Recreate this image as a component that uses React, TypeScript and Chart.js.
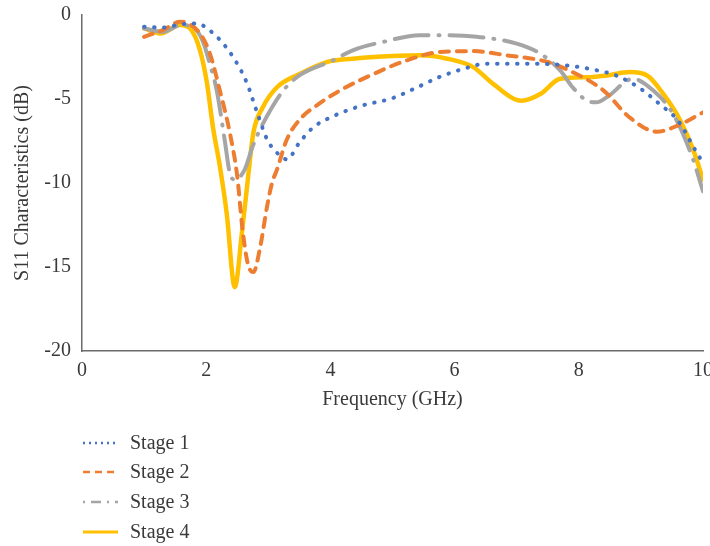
import React, { useEffect, useRef } from "react";
import { Chart, registerables } from "chart.js";

Chart.register(...registerables);

const stageLabels = ["Stage 1", "Stage 2", "Stage 3", "Stage 4"];

const stage1Freq = [1.0, 1.3, 1.6, 1.85, 2.05, 2.25, 2.45, 2.65, 2.82, 2.98, 3.14, 3.3, 3.5, 3.72, 4.0, 4.5, 5.0, 5.4, 5.75, 6.15, 6.5, 7.1, 7.8, 8.3, 8.6, 9.0, 9.3, 9.6, 9.9, 10.0];
const stage1S11 = [-0.7, -0.75, -0.55, -0.5, -0.9, -1.6, -2.6, -4.0, -5.8, -7.4, -8.2, -8.6, -7.6, -6.7, -6.1, -5.4, -4.95, -4.3, -3.7, -3.2, -2.9, -2.9, -3.0, -3.3, -3.6, -4.4, -5.3, -6.3, -8.2, -8.8];

const stage2Freq = [1.0, 1.3, 1.58, 1.9, 2.06, 2.22, 2.38, 2.5, 2.58, 2.67, 2.76, 2.87, 2.98, 3.06, 3.14, 3.3, 3.5, 3.83, 4.2, 4.7, 5.23, 5.76, 6.3, 6.84, 7.5, 7.9, 8.4, 8.82, 9.26, 9.58, 10.0];
const stage2S11 = [-1.3, -0.9, -0.4, -1.1, -2.3, -4.5, -7.0, -9.6, -12.6, -14.8, -15.3, -13.8, -11.4, -10.0, -9.2, -7.4, -6.25, -5.25, -4.4, -3.5, -2.7, -2.2, -2.15, -2.4, -2.8, -3.4, -4.5, -6.1, -6.95, -6.6, -5.8];

const stage3Freq = [1.0, 1.3, 1.6, 1.8, 1.95, 2.05, 2.17, 2.3, 2.38, 2.46, 2.62, 2.75, 2.91, 3.24, 3.5, 4.04, 4.36, 4.85, 5.44, 5.76, 6.36, 7.0, 7.38, 7.7, 7.9, 8.13, 8.28, 8.45, 8.87, 9.2, 9.52, 9.84, 10.0];
const stage3S11 = [-0.8, -1.0, -0.6, -0.75, -1.6, -2.8, -4.5, -7.5, -9.4, -9.8, -9.2, -7.8, -6.5, -4.5, -3.6, -2.7, -2.1, -1.6, -1.2, -1.2, -1.3, -1.7, -2.3, -3.3, -4.3, -5.1, -5.2, -4.9, -3.8, -4.5, -5.9, -8.6, -10.5];

const stage4Freq = [1.0, 1.26, 1.58, 1.74, 1.9, 2.01, 2.11, 2.22, 2.33, 2.46, 2.58, 2.67, 2.76, 2.91, 3.14, 3.51, 3.94, 4.36, 4.69, 5.44, 5.88, 6.3, 6.62, 7.08, 7.38, 7.7, 8.18, 8.45, 8.82, 9.1, 9.36, 9.63, 9.84, 10.0];
const stage4S11 = [-0.8, -1.1, -0.6, -0.8, -2.1, -4.0, -6.7, -9.0, -11.8, -16.2, -12.8, -9.8, -7.0, -5.5, -4.3, -3.5, -2.8, -2.6, -2.5, -2.4, -2.6, -3.1, -4.1, -5.1, -4.7, -3.8, -3.7, -3.6, -3.4, -3.6, -4.7, -6.25, -8.0, -9.8];

const xTicks = [0, 2, 4, 6, 8, 10];
const yTicks = [0, -5, -10, -15, -20];

const FONT = "'Liberation Serif', 'Times New Roman', serif";
const TEXT = "#3a3a3a";
const AXIS = "#6b6b6b";

const pts = (xs: number[], ys: number[]) => xs.map((x, i) => ({ x, y: ys[i] }));

const legendPlugin = {
  id: "stackedLegend",
  afterDraw(chart: any) {
    const ctx = chart.ctx;
    const x0 = 83;
    const x1 = 118;
    const ys = [443, 472, 502, 532];
    chart.data.datasets.forEach((ds: any, i: number) => {
      const y = ys[i];
      ctx.save();
      ctx.strokeStyle = ds.borderColor;
      ctx.lineWidth = i === 3 ? 3 : 2.5;
      ctx.lineCap = "butt";
      const dash = i === 0 ? [2, 4] : i === 1 ? [7, 5] : i === 2 ? [2, 6, 10, 6] : [];
      ctx.setLineDash(dash);
      ctx.beginPath();
      ctx.moveTo(x0, y);
      ctx.lineTo(x1, y);
      ctx.stroke();
      ctx.setLineDash([]);
      ctx.fillStyle = TEXT;
      ctx.font = `20px ${FONT}`;
      ctx.textBaseline = "middle";
      ctx.textAlign = "left";
      ctx.fillText(ds.label, 130, y + 1);
      ctx.restore();
    });
  },
};

export default function App() {
  const ref = useRef<HTMLCanvasElement | null>(null);

  useEffect(() => {
    document.body.style.margin = "0";
    const canvas = ref.current;
    if (!canvas) return;
    const chart = new Chart(canvas, {
      type: "line",
      data: {
        datasets: [
          {
            label: stageLabels[0],
            data: pts(stage1Freq, stage1S11),
            borderColor: "#4472C4",
            borderWidth: 4,
            borderDash: [0.5, 9.5],
            borderCapStyle: "round",
          },
          {
            label: stageLabels[1],
            data: pts(stage2Freq, stage2S11),
            borderColor: "#ED7D31",
            borderWidth: 4,
            borderDash: [9, 8],
            borderCapStyle: "round",
          },
          {
            label: stageLabels[2],
            data: pts(stage3Freq, stage3S11),
            borderColor: "#A5A5A5",
            borderWidth: 4,
            borderDash: [34, 10, 1, 10],
            borderCapStyle: "round",
          },
          {
            label: stageLabels[3],
            data: pts(stage4Freq, stage4S11),
            borderColor: "#FFC000",
            borderWidth: 4.5,
            borderCapStyle: "round",
          },
        ] as any,
      },
      options: {
        animation: false,
        responsive: false,
        parsing: false as any,
        elements: {
          point: { radius: 0, hoverRadius: 0 },
          line: { cubicInterpolationMode: "monotone", fill: false },
        },
        layout: { padding: { top: 15, right: 7, bottom: 130, left: 0 } },
        plugins: {
          legend: { display: false },
          tooltip: { enabled: false },
        },
        scales: {
          x: {
            type: "linear",
            min: 0,
            max: 10,
            afterBuildTicks: (s: any) => {
              s.ticks = xTicks.map((v) => ({ value: v }));
            },
            afterFit: (s: any) => {
              s.height = 65;
              s.paddingLeft = 0;
              s.paddingRight = 0;
            },
            grid: { display: false, drawTicks: false },
            border: { display: true, color: AXIS, width: 1.5 },
            ticks: { color: TEXT, font: { family: FONT, size: 20 }, padding: 8, maxRotation: 0 },
            title: {
              display: true,
              text: "Frequency (GHz)",
              color: TEXT,
              font: { family: FONT, size: 20 },
              padding: { top: 0, bottom: 4 },
            },
          },
          y: {
            type: "linear",
            min: -20,
            max: 0,
            afterBuildTicks: (s: any) => {
              s.ticks = yTicks.map((v) => ({ value: v }));
            },
            afterFit: (s: any) => {
              s.width = 82;
              s.paddingTop = 0;
              s.paddingBottom = 0;
            },
            grid: { display: false, drawTicks: false },
            border: { display: true, color: AXIS, width: 1.5 },
            ticks: { color: TEXT, font: { family: FONT, size: 20 }, padding: 11 },
            title: {
              display: true,
              text: "S11 Characteristics (dB)",
              color: TEXT,
              font: { family: FONT, size: 20 },
              padding: { top: 11, bottom: 0 },
            },
          },
        },
      },
      plugins: [legendPlugin],
    });
    return () => chart.destroy();
  }, []);

  return (
    <div style={{ position: "absolute", left: 0, top: 0, width: 710, height: 546 }}>
      <canvas ref={ref} width={710} height={546} />
    </div>
  );
}
